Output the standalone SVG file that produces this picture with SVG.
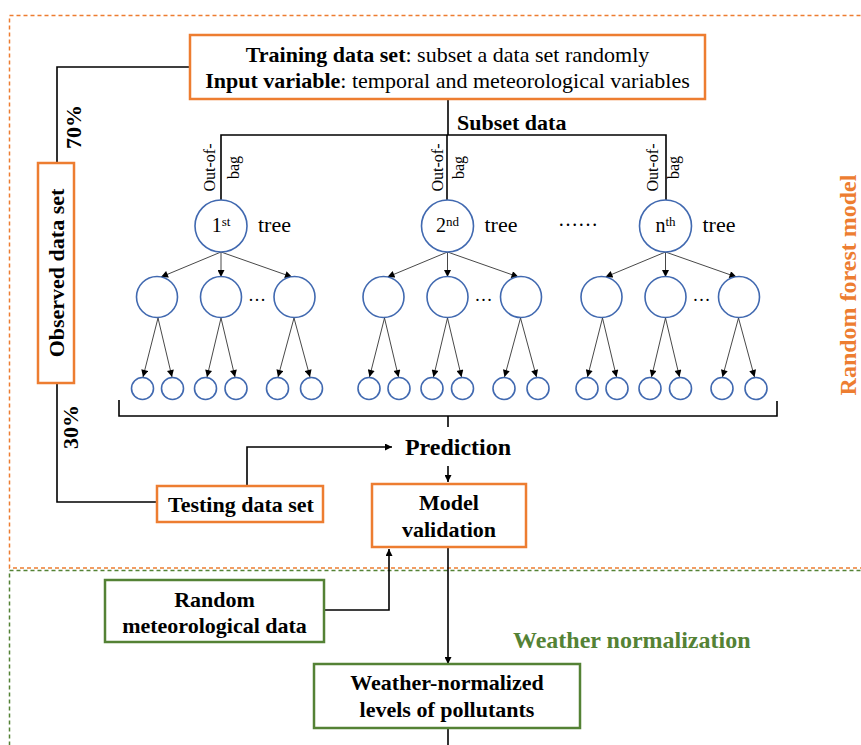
<svg xmlns="http://www.w3.org/2000/svg" xmlns:xlink="http://www.w3.org/1999/xlink" width="861" height="745" viewBox="0 0 861 745">
<style>
text{font-family:"Liberation Serif","Times New Roman",serif;fill:#000}
.b{font-weight:bold}
.ob{fill:#fff;stroke:#ED7D31;stroke-width:2.5}
.gb{fill:#fff;stroke:#548235;stroke-width:2.5}
.c{fill:#fff;stroke:#4169B0;stroke-width:1.6}
.ln{fill:none;stroke:#000;stroke-width:1.6}
.ta{fill:none;stroke:#333;stroke-width:0.9;marker-end:url(#sa)}
.t22{font-size:22px}
</style>
<defs>
<marker id="a" viewBox="0 0 10 10" refX="10" refY="5" markerUnits="userSpaceOnUse" markerWidth="8" markerHeight="7" orient="auto"><path d="M0,0L10,5L0,10z" fill="#000"/></marker>
<marker id="sa" viewBox="0 0 10 10" refX="10" refY="5" markerUnits="userSpaceOnUse" markerWidth="8" markerHeight="7" orient="auto"><path d="M0,0L10,5L0,10z" fill="#000"/></marker>
</defs>
<rect width="861" height="745" fill="#fff"/>
<!-- regions -->
<g id="regions">
<rect x="9.5" y="570.5" width="900" height="220" fill="none" stroke="#548235" stroke-width="1.5" stroke-dasharray="4,3"/>
<rect x="9.5" y="15.5" width="900" height="552.5" fill="none" stroke="#ED7D31" stroke-width="1.5" stroke-dasharray="4,3"/>
<text class="b" font-size="24" fill="#ED7D31" style="fill:#ED7D31" text-anchor="middle" transform="translate(856,285) rotate(-90)">Random forest model</text>
<text class="b" font-size="24" style="fill:#548235" x="513" y="648">Weather normalization</text>
</g>
<!-- connectors -->
<g id="connectors">
<polyline class="ln" points="190,67 57,67 57,163"/>
<polyline class="ln" points="57,383 57,502 157,502"/>
<polyline class="ln" points="448,99 448,135"/>
<polyline class="ln" points="221,200 221,135 666,135 666,200"/>
<line class="ln" x1="447" y1="135" x2="447" y2="200"/>
<polyline class="ln" points="119,400 119,416 777,416 777,401"/>
<line class="ln" x1="448" y1="416" x2="448" y2="427"/>
<polyline class="ln" points="247,486 247,447 392,447" marker-end="url(#a)"/>
<line class="ln" x1="448" y1="466" x2="448" y2="482" marker-end="url(#a)"/>
<line class="ln" x1="448" y1="548" x2="448" y2="664" marker-end="url(#a)"/>
<polyline class="ln" points="324,610 389,610 389,549" marker-end="url(#a)"/>
<line class="ln" x1="448" y1="728" x2="448" y2="745"/>
<g transform="translate(221,0)">
<line class="ta" x1="0" y1="252" x2="-60" y2="277"/><line class="ta" x1="0" y1="252" x2="0" y2="277"/><line class="ta" x1="0" y1="252" x2="71" y2="277"/>
<line class="ta" x1="-63" y1="318" x2="-78" y2="377"/><line class="ta" x1="-63" y1="318" x2="-49" y2="377"/>
<line class="ta" x1="0" y1="318" x2="-14" y2="377"/><line class="ta" x1="0" y1="318" x2="14" y2="377"/>
<line class="ta" x1="73" y1="318" x2="57" y2="377"/><line class="ta" x1="73" y1="318" x2="89" y2="377"/>
</g>
<g transform="translate(447.5,0)">
<line class="ta" x1="0" y1="252" x2="-60" y2="277"/><line class="ta" x1="0" y1="252" x2="0" y2="277"/><line class="ta" x1="0" y1="252" x2="71" y2="277"/>
<line class="ta" x1="-63" y1="318" x2="-78" y2="377"/><line class="ta" x1="-63" y1="318" x2="-49" y2="377"/>
<line class="ta" x1="0" y1="318" x2="-14" y2="377"/><line class="ta" x1="0" y1="318" x2="14" y2="377"/>
<line class="ta" x1="73" y1="318" x2="57" y2="377"/><line class="ta" x1="73" y1="318" x2="89" y2="377"/>
</g>
<g transform="translate(665.5,0)">
<line class="ta" x1="0" y1="252" x2="-60" y2="277"/><line class="ta" x1="0" y1="252" x2="0" y2="277"/><line class="ta" x1="0" y1="252" x2="71" y2="277"/>
<line class="ta" x1="-63" y1="318" x2="-78" y2="377"/><line class="ta" x1="-63" y1="318" x2="-49" y2="377"/>
<line class="ta" x1="0" y1="318" x2="-14" y2="377"/><line class="ta" x1="0" y1="318" x2="14" y2="377"/>
<line class="ta" x1="73" y1="318" x2="57" y2="377"/><line class="ta" x1="73" y1="318" x2="89" y2="377"/>
</g>
</g>
<!-- labels on connectors -->
<g id="connector-labels">
<text class="b t22" text-anchor="middle" transform="translate(81,127) rotate(-90)">70%</text>
<text class="b t22" text-anchor="middle" transform="translate(78,427) rotate(-90)">30%</text>
<text class="b t22" x="457" y="130">Subset data</text>
<text font-size="16" text-anchor="middle" transform="translate(214.5,167.5) rotate(-90)">Out-of-</text>
<text font-size="16" text-anchor="middle" transform="translate(238.5,167.5) rotate(-90)">bag</text>
<text font-size="16" text-anchor="middle" transform="translate(443,167.5) rotate(-90)">Out-of-</text>
<text font-size="16" text-anchor="middle" transform="translate(463.5,167.5) rotate(-90)">bag</text>
<text font-size="16" text-anchor="middle" transform="translate(658,167.5) rotate(-90)">Out-of-</text>
<text font-size="16" text-anchor="middle" transform="translate(679,167.5) rotate(-90)">bag</text>
</g>
<!-- nodes -->
<g id="training">
<rect class="ob" x="190" y="35" width="515" height="64"/>
<text class="t22" x="447.5" y="62" text-anchor="middle"><tspan class="b">Training data set</tspan>: subset a data set randomly</text>
<text class="t22" x="447.5" y="88" text-anchor="middle"><tspan class="b">Input variable</tspan>: temporal and meteorological variables</text>
</g>
<g id="observed">
<rect class="ob" x="38" y="163" width="36" height="220"/>
<text class="b t22" text-anchor="middle" transform="translate(64,273) rotate(-90)">Observed data set</text>
</g>
<g id="testing">
<rect class="ob" x="157" y="486" width="166" height="36"/>
<text class="b t22" x="241" y="512" text-anchor="middle">Testing data set</text>
</g>
<g id="prediction">
<text class="b" font-size="24" x="458" y="455" text-anchor="middle">Prediction</text>
</g>
<g id="validation">
<rect class="ob" x="372" y="484" width="154" height="63"/>
<text class="b t22" x="449" y="510" text-anchor="middle">Model</text>
<text class="b t22" x="449" y="537" text-anchor="middle">validation</text>
</g>
<g id="random-met">
<rect class="gb" x="105" y="580" width="219" height="62"/>
<text class="b t22" x="214.5" y="607" text-anchor="middle">Random</text>
<text class="b t22" x="214.5" y="633" text-anchor="middle">meteorological data</text>
</g>
<g id="normalized">
<rect class="gb" x="314" y="664" width="266" height="64"/>
<text class="b t22" x="447" y="690" text-anchor="middle">Weather-normalized</text>
<text class="b t22" x="447" y="717" text-anchor="middle">levels of pollutants</text>
</g>
<g id="tree1" transform="translate(221,0)">
<circle class="c" cx="0" cy="226" r="26"/>
<circle class="c" cx="-64" cy="297" r="20.5"/><circle class="c" cx="0" cy="297" r="20.5"/><circle class="c" cx="73.5" cy="297" r="20.5"/>
<circle class="c" cx="-78.5" cy="388.5" r="11"/><circle class="c" cx="-48.5" cy="388.5" r="11"/><circle class="c" cx="-15.5" cy="388.5" r="11"/><circle class="c" cx="15" cy="388.5" r="11"/><circle class="c" cx="56.5" cy="388.5" r="11"/><circle class="c" cx="90.5" cy="388.5" r="11"/>
<text font-size="20" x="0" y="232" text-anchor="middle">1<tspan font-size="13" dy="-6">st</tspan></text>
<text font-size="22" x="37" y="232">tree</text>
<text font-size="18" x="36" y="301" text-anchor="middle">…</text>
</g>
<g id="tree2" transform="translate(447.5,0)">
<circle class="c" cx="0" cy="226" r="26"/>
<circle class="c" cx="-64" cy="297" r="20.5"/><circle class="c" cx="0" cy="297" r="20.5"/><circle class="c" cx="73.5" cy="297" r="20.5"/>
<circle class="c" cx="-78.5" cy="388.5" r="11"/><circle class="c" cx="-48.5" cy="388.5" r="11"/><circle class="c" cx="-15.5" cy="388.5" r="11"/><circle class="c" cx="15" cy="388.5" r="11"/><circle class="c" cx="56.5" cy="388.5" r="11"/><circle class="c" cx="90.5" cy="388.5" r="11"/>
<text font-size="20" x="0" y="232" text-anchor="middle">2<tspan font-size="13" dy="-6">nd</tspan></text>
<text font-size="22" x="37" y="232">tree</text>
<text font-size="18" x="36" y="301" text-anchor="middle">…</text>
</g>
<g id="treen" transform="translate(665.5,0)">
<circle class="c" cx="0" cy="226" r="26"/>
<circle class="c" cx="-64" cy="297" r="20.5"/><circle class="c" cx="0" cy="297" r="20.5"/><circle class="c" cx="73.5" cy="297" r="20.5"/>
<circle class="c" cx="-78.5" cy="388.5" r="11"/><circle class="c" cx="-48.5" cy="388.5" r="11"/><circle class="c" cx="-15.5" cy="388.5" r="11"/><circle class="c" cx="15" cy="388.5" r="11"/><circle class="c" cx="56.5" cy="388.5" r="11"/><circle class="c" cx="90.5" cy="388.5" r="11"/>
<text font-size="20" x="0" y="232" text-anchor="middle">n<tspan font-size="13" dy="-6">th</tspan></text>
<text font-size="22" x="37" y="232">tree</text>
<text font-size="18" x="36" y="301" text-anchor="middle">…</text>
</g>
<g id="dots">
<text font-size="20" x="578" y="226" text-anchor="middle">……</text>
</g>
</svg>
